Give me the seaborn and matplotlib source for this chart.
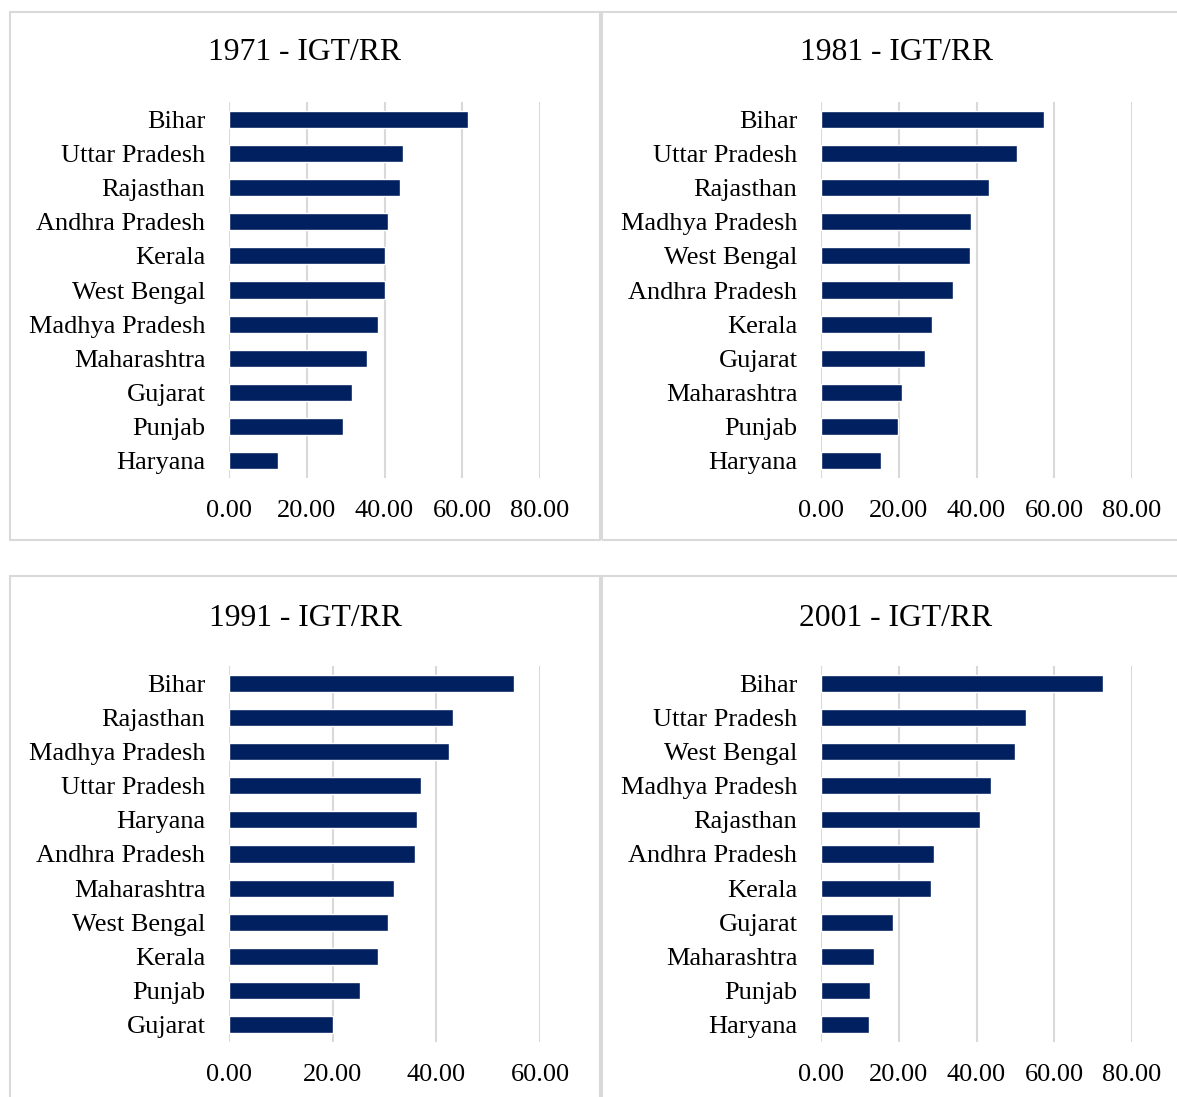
import matplotlib
matplotlib.use("Agg")
import matplotlib.pyplot as plt
import seaborn as sns
import pandas as pd
from matplotlib.patches import Rectangle

sns.set_theme(style="white")
plt.rcParams['font.family'] = ['Liberation Serif', 'DejaVu Serif']

# ---- data ----
titles = ["1971 - IGT/RR", "1981 - IGT/RR", "1991 - IGT/RR", "2001 - IGT/RR"]

states_1971 = ["Bihar", "Uttar Pradesh", "Rajasthan", "Andhra Pradesh", "Kerala", "West Bengal",
               "Madhya Pradesh", "Maharashtra", "Gujarat", "Punjab", "Haryana"]
values_1971 = [61.6, 44.8, 44.0, 40.8, 40.2, 40.1, 38.4, 35.4, 31.7, 29.3, 12.6]

states_1981 = ["Bihar", "Uttar Pradesh", "Rajasthan", "Madhya Pradesh", "West Bengal", "Andhra Pradesh",
               "Kerala", "Gujarat", "Maharashtra", "Punjab", "Haryana"]
values_1981 = [57.4, 50.5, 43.1, 38.5, 38.2, 34.0, 28.6, 26.7, 20.8, 19.7, 15.4]

states_1991 = ["Bihar", "Rajasthan", "Madhya Pradesh", "Uttar Pradesh", "Haryana", "Andhra Pradesh",
               "Maharashtra", "West Bengal", "Kerala", "Punjab", "Gujarat"]
values_1991 = [55.0, 43.2, 42.4, 37.0, 36.3, 35.9, 31.9, 30.6, 28.8, 25.3, 20.1]

states_2001 = ["Bihar", "Uttar Pradesh", "West Bengal", "Madhya Pradesh", "Rajasthan", "Andhra Pradesh",
               "Kerala", "Gujarat", "Maharashtra", "Punjab", "Haryana"]
values_2001 = [72.6, 52.7, 49.8, 43.7, 40.9, 29.0, 28.4, 18.4, 13.6, 12.7, 12.4]

xticks_80 = [0, 20, 40, 60, 80]
xticks_60 = [0, 20, 40, 60]

W, H = 1177, 1097
fig = plt.figure(figsize=(W / 100, H / 100), dpi=100)

# panel borders (pixel coords: x0, y0, x1, y1)
borders = [(10, 12, 600, 540), (602, 12, 1200, 540), (10, 576, 600, 1120), (602, 576, 1200, 1120)]
for x0, y0, x1, y1 in borders:
    fig.patches.append(Rectangle((x0 / W, 1 - y1 / H), (x1 - x0) / W, (y1 - y0) / H,
                                 transform=fig.transFigure, fill=False,
                                 edgecolor="#d9d9d9", linewidth=1.5, zorder=0))

panels = [
    (states_1971, values_1971, xticks_80, 229, 102, 305, 53),
    (states_1981, values_1981, xticks_80, 821, 102, 896, 53),
    (states_1991, values_1991, xticks_60, 229, 666, 305, 618),
    (states_2001, values_2001, xticks_80, 821, 666, 896, 618),
]

for (states, vals, ticks, axl, axt, tx, ty), title in zip(panels, titles):
    ax = fig.add_axes([axl / W, 1 - (axt + 376) / H, 311 / W, 376 / H])
    df = pd.DataFrame({"state": states, "value": vals})
    sns.barplot(data=df, x="value", y="state", ax=ax, color="#002060",
                width=0.5, orient="h", saturation=1)
    ax.set_xlim(ticks[0], ticks[-1])
    ax.set_ylim(len(states) - 0.5, -0.5)
    ax.set_xticks(ticks)
    ax.set_xticklabels([f"{t:.2f}" for t in ticks])
    ax.set_xlabel("")
    ax.set_ylabel("")
    for s in ax.spines.values():
        s.set_visible(False)
    ax.grid(axis="x", color="#d9d9d9", linewidth=1.5)
    ax.set_axisbelow(True)
    ax.tick_params(axis="y", length=0, pad=17, labelsize=19, labelcolor="black")
    ax.tick_params(axis="x", length=0, pad=16, labelsize=19, labelcolor="black")
    fig.text(tx / W, 1 - ty / H, title, ha="center", va="center", fontsize=22.8, color="black")

fig.savefig("out.png", dpi=100, facecolor="white")
